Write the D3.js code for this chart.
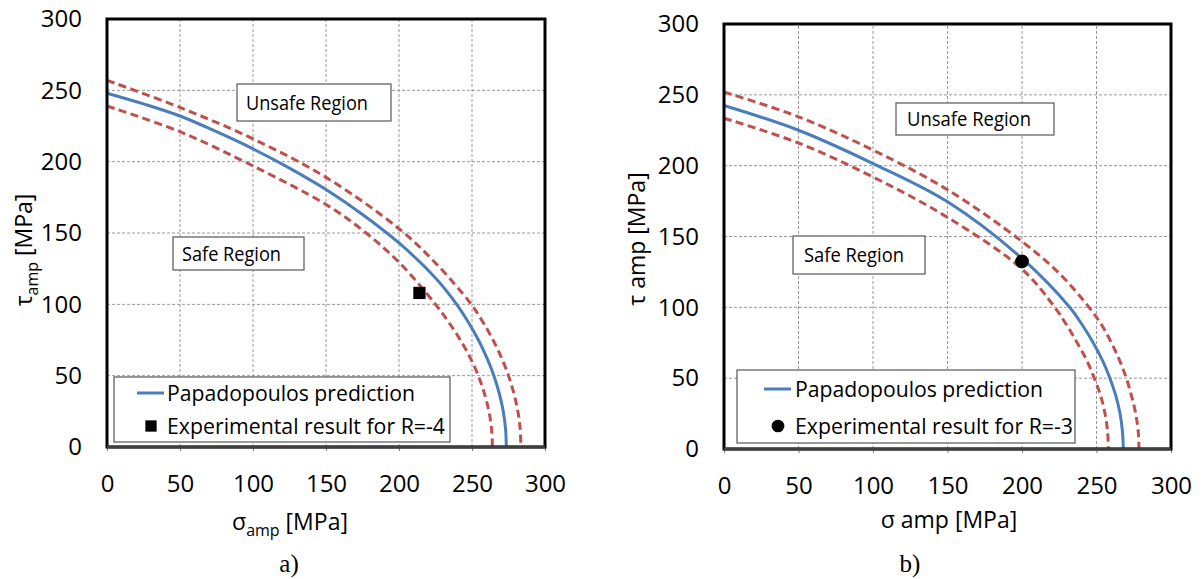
<!DOCTYPE html>
<html>
<head>
<meta charset="utf-8">
<script src="https://cdn.jsdelivr.net/npm/d3@7"></script>
<style>
    body { margin: 0; background: #fff; }
    text { font-family: "Open Sans", sans-serif; fill: #000; }
    .caption { font-family: "Liberation Serif", serif; }
</style>
</head>
<body>
<script>
// ----- data (MPa) -----
const sigmaTicks = [0, 50, 100, 150, 200, 250, 300];
const tauTicks = [0, 50, 100, 150, 200, 250, 300];

// a) R=-4, pairs are [sigma_amp, tau_amp]
const predictionA = [[0,248],[25,240.5],[50,232],[75,221],[100,209],[125,195.5],[150,180.5],[175,163],[200,143],[225,118.5],[239.5,100],[247.5,87.5],[254.4,75],[260.2,62.5],[265,50],[268.7,37.5],[271.4,25],[273,12.5],[273.5,0]];
const upperA = [[0,257],[50,238],[100,216],[150,189],[200,153],[225,129],[249.5,100],[257.5,87.5],[264.4,75],[270.2,62.5],[275,50],[278.7,37.5],[281.4,25],[283,12.5],[283.5,0]];
const lowerA = [[0,239],[50,221],[100,197],[150,170],[175,152],[200,129.5],[225,100],[234,87.5],[242,75],[248.8,62.5],[254.3,50],[258.5,37.5],[261.6,25],[263.4,12.5],[264,0]];
const experimentA = [[214,108]];

// b) R=-3
const predictionB = [[0,242.5],[50,225],[100,201.5],[150,174.5],[200,134.5],[232,100],[240.5,87.5],[247.8,75],[254,62.5],[259,50],[263,37.5],[265.8,25],[267.4,12.5],[268,0]];
const upperB = [[0,252],[50,234.5],[100,211],[150,183],[200,146.5],[225,124],[245,100],[253.5,87.5],[260,75],[265.5,62.5],[270,50],[273.5,37.5],[276.3,25],[278,12.5],[278.5,0]];
const lowerB = [[0,233.5],[50,216],[100,192],[150,163.5],[200,127],[222,100],[230,87.5],[237,75],[243.5,62.5],[248.5,50],[252.8,37.5],[255.7,25],[257.4,12.5],[258,0]];
const experimentB = [[200,132.5]];

const predictionLabel = "Papadopoulos prediction";
const blue = "#4A7EBB";
const red = "#C0504D";

const svg = d3.select("body")
    .append("svg")
    .attr("width", 1202)
    .attr("height", 579);

/**
 * Draw one panel of the figure
 * @param {*} p panel settings (position, data, labels)
 */
function drawPanel(p){

    let x = d3.scaleLinear().domain([0, 300]).range([p.left, p.left + p.width]);
    let y = d3.scaleLinear().domain([0, 300]).range([p.top + p.height, p.top]);

    let g = svg.append("g");

    // ----- dashed grid -----
    g.append("g")
        .selectAll("line.vgrid")
        .data(sigmaTicks.slice(1, -1))
        .enter()
        .append("line")
        .attr("x1", d => x(d)).attr("x2", d => x(d))
        .attr("y1", y(0)).attr("y2", y(300))
        .attr("stroke", "#9a9a9a")
        .attr("stroke-width", 1)
        .attr("stroke-dasharray", "3,2");

    g.append("g")
        .selectAll("line.hgrid")
        .data(tauTicks.slice(1, -1))
        .enter()
        .append("line")
        .attr("x1", x(0)).attr("x2", x(300))
        .attr("y1", d => y(d)).attr("y2", d => y(d))
        .attr("stroke", "#9a9a9a")
        .attr("stroke-width", 1)
        .attr("stroke-dasharray", "3,2");

    // ----- axes (labels only, frame drawn later) -----
    let xAxis = g.append("g")
        .attr("transform", "translate(0," + y(0) + ")")
        .call(d3.axisBottom(x).tickValues(sigmaTicks).tickSize(4).tickPadding(24).tickSizeOuter(0));
    let yAxis = g.append("g")
        .attr("transform", "translate(" + x(0) + ",0)")
        .call(d3.axisLeft(y).tickValues(tauTicks).tickSize(0).tickPadding(25));

    [xAxis, yAxis].forEach(a => {
        a.select(".domain").remove();
        a.selectAll(".tick line").attr("stroke", "#808080");
        a.selectAll("text")
            .attr("font-family", "Open Sans")
            .attr("font-size", 24)
            .attr("fill", "#000");
    });

    // ----- region boxes -----
    p.regions.forEach(r => {
        g.append("rect")
            .attr("x", p.left + r.x).attr("y", p.top + r.y)
            .attr("width", r.w).attr("height", r.h)
            .attr("fill", "#fff")
            .attr("stroke", "#555")
            .attr("stroke-width", 1.2);
        g.append("text")
            .attr("x", p.left + r.x + r.pad)
            .attr("y", p.top + r.y + r.h / 2)
            .attr("dy", "0.36em")
            .attr("font-size", 20)
            .attr("textLength", r.tw)
            .attr("lengthAdjust", "spacingAndGlyphs")
            .text(r.label);
    });

    // ----- curves -----
    let line = d3.line()
        .x(d => x(d[0]))
        .y(d => y(d[1]))
        .curve(d3.curveCatmullRom.alpha(0.5));

    [p.upper, p.lower].forEach(band => {
        g.append("path")
            .datum(band)
            .attr("d", line)
            .attr("fill", "none")
            .attr("stroke", red)
            .attr("stroke-width", 3)
            .attr("stroke-dasharray", "8,4.5");
    });

    g.append("path")
        .datum(p.prediction)
        .attr("d", line)
        .attr("fill", "none")
        .attr("stroke", blue)
        .attr("stroke-width", 3);

    // ----- experimental point -----
    let sym = p.marker == "square" ? d3.symbolSquare : d3.symbolCircle;
    g.selectAll("path.exp")
        .data(p.experiment)
        .enter()
        .append("path")
        .attr("class", "exp")
        .attr("transform", d => "translate(" + x(d[0]) + "," + y(d[1]) + ")")
        .attr("d", d3.symbol().type(sym).size(p.markerSize))
        .attr("fill", "#000");

    // ----- legend -----
    let L = p.legend;
    let lg = g.append("g").attr("transform", "translate(" + (p.left + L.x) + "," + (p.top + L.y) + ")");
    lg.append("rect")
        .attr("width", L.w).attr("height", L.h)
        .attr("fill", "#fff")
        .attr("stroke", "#555")
        .attr("stroke-width", 1.2);
    lg.append("line")
        .attr("x1", L.symX - 14).attr("x2", L.symX + 13)
        .attr("y1", L.row1).attr("y2", L.row1)
        .attr("stroke", blue)
        .attr("stroke-width", 3);
    lg.append("path")
        .attr("transform", "translate(" + L.symX + "," + L.row2 + ")")
        .attr("d", d3.symbol().type(sym).size(p.markerSize * 0.85))
        .attr("fill", "#000");
    lg.append("text")
        .attr("x", L.textX).attr("y", L.row1).attr("dy", "0.36em")
        .attr("font-size", 22)
        .attr("textLength", 248)
        .attr("lengthAdjust", "spacingAndGlyphs")
        .text(predictionLabel);
    lg.append("text")
        .attr("x", L.textX).attr("y", L.row2).attr("dy", "0.36em")
        .attr("font-size", 22)
        .attr("textLength", L.tw2)
        .attr("lengthAdjust", "spacingAndGlyphs")
        .text(p.expLabel);

    // ----- frame -----
    g.append("rect")
        .attr("x", x(0)).attr("y", y(300))
        .attr("width", p.width).attr("height", p.height)
        .attr("fill", "none")
        .attr("stroke", "#000")
        .attr("stroke-width", 3);
    g.append("line")
        .attr("x1", x(0)).attr("x2", x(300))
        .attr("y1", y(0)).attr("y2", y(0))
        .attr("stroke", "#404040")
        .attr("stroke-width", 3);

    // ----- axis titles -----
    let xt = g.append("text")
        .attr("x", p.xTitleX).attr("y", p.xTitleY)
        .attr("text-anchor", "middle")
        .attr("font-size", 23);
    xt.append("tspan").text(p.xTitle[0]);
    xt.append("tspan").attr("font-size", p.sub ? 16 : 23).attr("dy", p.sub ? 6 : 0).text(p.xTitle[1]);
    xt.append("tspan").attr("dy", p.sub ? -6 : 0).text(p.xTitle[2]);

    let yt = g.append("text")
        .attr("transform", "translate(" + p.yTitleX + "," + p.yTitleY + ") rotate(-90)")
        .attr("text-anchor", "middle")
        .attr("font-size", 23);
    yt.append("tspan").text(p.yTitle[0]);
    yt.append("tspan").attr("font-size", p.sub ? 16 : 23).attr("dy", p.sub ? 6 : 0).text(p.yTitle[1]);
    yt.append("tspan").attr("dy", p.sub ? -6 : 0).text(p.yTitle[2]);

    // ----- caption -----
    g.append("text")
        .attr("class", "caption")
        .attr("x", p.captionX).attr("y", 572)
        .attr("text-anchor", "middle")
        .attr("font-family", "Liberation Serif")
        .attr("font-size", 25)
        .text(p.caption);
}

drawPanel({
    left: 107, top: 19, width: 438, height: 428,
    prediction: predictionA, upper: upperA, lower: lowerA, experiment: experimentA,
    marker: "square", markerSize: 150,
    expLabel: "Experimental result for R=-4",
    regions: [
        { label: "Unsafe Region", x: 130, y: 65, w: 154, h: 37, pad: 9, tw: 122 },
        { label: "Safe Region", x: 66, y: 218, w: 131, h: 33, pad: 9, tw: 99 }
    ],
    legend: { x: 7, y: 358, w: 336, h: 65, row1: 16, row2: 49, symX: 37, textX: 53, tw2: 278 },
    xTitle: ["σ", "amp", " [MPa]"], xTitleX: 290, xTitleY: 530,
    yTitle: ["τ", "amp", " [MPa]"], yTitleX: 32, yTitleY: 250, sub: true,
    caption: "a)", captionX: 289
});

drawPanel({
    left: 724, top: 24, width: 447, height: 425,
    prediction: predictionB, upper: upperB, lower: lowerB, experiment: experimentB,
    marker: "circle", markerSize: 150,
    expLabel: "Experimental result for R=-3",
    regions: [
        { label: "Unsafe Region", x: 172, y: 79, w: 158, h: 32, pad: 11, tw: 124 },
        { label: "Safe Region", x: 69, y: 212, w: 132, h: 38, pad: 11, tw: 100 }
    ],
    legend: { x: 13, y: 346, w: 338, h: 73, row1: 19, row2: 56, symX: 41, textX: 58, tw2: 278 },
    xTitle: ["σ", " amp", " [MPa]"], xTitleX: 949, xTitleY: 528,
    yTitle: ["τ", " amp", " [MPa]"], yTitleX: 645, yTitleY: 239, sub: false,
    caption: "b)", captionX: 910
});
</script>
</body>
</html>
